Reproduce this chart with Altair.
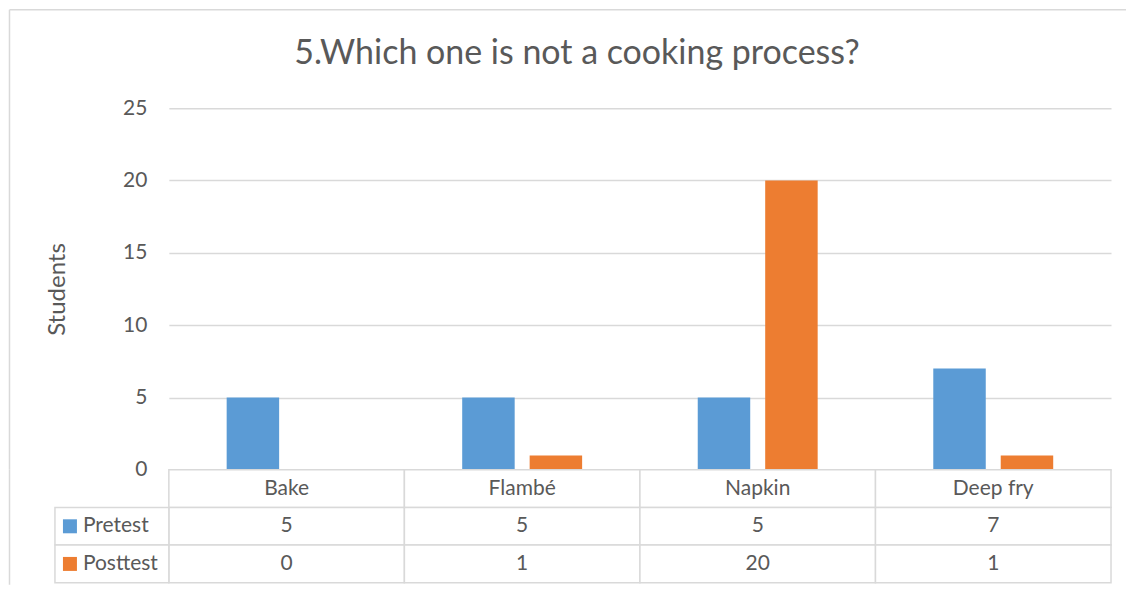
import altair as alt
import pandas as pd

categories = ["Bake", "Flambé", "Napkin", "Deep fry"]
series = ["Pretest", "Posttest"]
pretest = [5, 5, 5, 7]
posttest = [0, 1, 20, 1]
y_ticks = [0, 5, 10, 15, 20, 25]
title_text = "5.Which one is not a cooking process?"
y_title = "Students"

BLUE = "#5B9BD5"
ORANGE = "#ED7D31"
GRID = "#D9D9D9"
TXT = "#595959"
FONT = "Lato"

rows = []
for c, a, b in zip(categories, pretest, posttest):
    rows.append({"cat": c, "series": "Pretest", "value": a})
    rows.append({"cat": c, "series": "Posttest", "value": b})
bars_df = pd.DataFrame(rows)

table_rows = ["header"] + series
cells = []
for c, a, b in zip(categories, pretest, posttest):
    cells.append({"cat": c, "row": "header", "label": c})
    cells.append({"cat": c, "row": "Pretest", "label": str(a)})
    cells.append({"cat": c, "row": "Posttest", "label": str(b)})
cells_df = pd.DataFrame(cells)
legend_df = pd.DataFrame({"row": series, "series": series})

W, H, TH = 943, 362, 113
color_scale = alt.Scale(domain=series, range=[BLUE, ORANGE])

bars = alt.Chart(bars_df).mark_bar().encode(
    x=alt.X("cat:N", sort=categories, scale=alt.Scale(paddingInner=0, paddingOuter=0), axis=None),
    xOffset=alt.XOffset("series:N", sort=series,
                        scale=alt.Scale(paddingInner=0.222, paddingOuter=0.857)),
    y=alt.Y("value:Q", scale=alt.Scale(domain=[0, 25], nice=False),
            axis=alt.Axis(values=y_ticks, title=y_title, grid=True, gridColor=GRID,
                          gridWidth=1.5, domain=False, ticks=False,
                          labelFont=FONT, labelFontSize=21, labelColor=TXT, labelPadding=22,
                          titleFont=FONT, titleFontSize=24, titleColor=TXT,
                          titleFontWeight="normal", titlePadding=53)),
    color=alt.Color("series:N", scale=color_scale, legend=None),
)

frame_left_top = alt.Chart(pd.DataFrame({"k": [0]})).mark_rule(
    color=GRID, strokeWidth=1.5).encode(
    x=alt.value(-159.5), y=alt.value(-98.5), y2=alt.value(H))
frame_top = alt.Chart(pd.DataFrame({"k": [0]})).mark_rule(
    color=GRID, strokeWidth=1.5).encode(
    x=alt.value(-159.5), x2=alt.value(958), y=alt.value(-98.5))

top = alt.layer(frame_left_top, frame_top, bars).properties(
    width=W, height=H,
    title=alt.TitleParams(title_text, font=FONT, fontSize=34, color=TXT,
                          fontWeight="normal", anchor="middle", frame="group",
                          dx=-63, offset=-62),
)

xs = alt.X("cat:N", sort=categories, scale=alt.Scale(paddingInner=0, paddingOuter=0), axis=None)
ys = alt.Y("row:N", sort=table_rows, scale=alt.Scale(domain=table_rows, paddingInner=0, paddingOuter=0), axis=None)

cell_rects = alt.Chart(cells_df).mark_rect(fill="white", stroke=GRID, strokeWidth=1.5).encode(
    x=xs, y=ys)
cell_text = alt.Chart(cells_df).mark_text(font=FONT, fontSize=21, color=TXT,
                                          align="center", baseline="middle").encode(
    x=xs, y=ys, text="label:N")
leg_rects = alt.Chart(legend_df).mark_rect(fill="white", stroke=GRID, strokeWidth=1.5).encode(
    x=alt.value(-114), x2=alt.value(0), y=ys)
leg_sq = alt.Chart(legend_df).mark_square(size=196, opacity=1).encode(
    x=alt.value(-99), y=ys, color=alt.Color("series:N", scale=color_scale, legend=None))
leg_text = alt.Chart(legend_df).mark_text(font=FONT, fontSize=21, color=TXT,
                                          align="left", baseline="middle").encode(
    x=alt.value(-86), y=ys, text="series:N")
frame_left_bot = alt.Chart(pd.DataFrame({"k": [0]})).mark_rule(
    color=GRID, strokeWidth=1.5).encode(
    x=alt.value(-159.5), y=alt.value(0), y2=alt.value(115))

table = alt.layer(frame_left_bot, cell_rects, leg_rects, leg_sq, leg_text, cell_text).properties(
    width=W, height=TH)

chart = alt.vconcat(top, table, spacing=0, bounds="flush").properties(
    padding=0, background="white"
).configure_view(stroke=None)

chart.save("out.html", embed_options={"renderer": "svg", "actions": False})
